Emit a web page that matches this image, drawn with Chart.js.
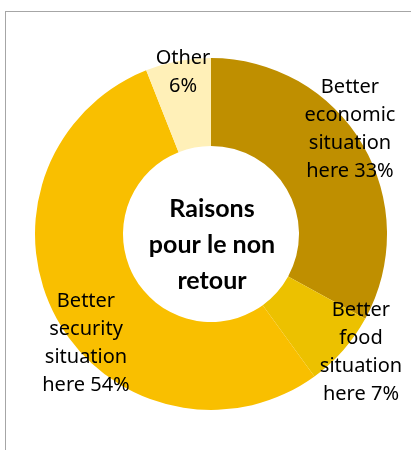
<!DOCTYPE html>
<html>
<head>
<meta charset="utf-8">
<script src="https://cdn.jsdelivr.net/npm/chart.js@4"></script>
<style>
  html, body { margin: 0; padding: 0; background: #fff; overflow: hidden; }
  #cadre { position: absolute; left: 5px; top: 11px; width: 430px; height: 460px; border: 1px solid #a6a6a6; }
  #wrap { position: absolute; left: 0; top: 0; width: 411px; height: 450px; }
</style>
</head>
<body>
<div id="cadre"></div>
<div id="wrap"><canvas id="myChart"></canvas></div>
<script>
// donnees du graphique
var categories = [
  ['Better', 'economic', 'situation', 'here 33%'],
  ['Better', 'food', 'situation', 'here 7%'],
  ['Better', 'security', 'situation', 'here 54%'],
  ['Other', '6%']
];
var valeurs = [33, 7, 54, 6];
var couleurs = ['#BF8F00', '#ECC100', '#F9BF00', '#FFF0B8'];
var titreCentre = ['Raisons', 'pour le non', 'retour'];

// decalage des etiquettes par rapport au centre du donut (px)
var decalages = [[139, -99], [150, 124], [-125, 115], [-28, -156]];

var etiquettes = {
  id: 'etiquettes',
  afterDatasetsDraw: function(chart) {
    var ctx = chart.ctx;
    var arcs = chart.getDatasetMeta(0).data;
    var cx = arcs[0].x, cy = arcs[0].y;
    ctx.save();
    ctx.fillStyle = '#000';
    ctx.textAlign = 'center';
    ctx.textBaseline = 'alphabetic';

    // etiquettes des parts
    ctx.font = '20px "Noto Sans"';
    var lh = 28;
    for (var i = 0; i < arcs.length; i++) {
      var linhas = categories[i];
      var x = cx + decalages[i][0];
      var y0 = cy + decalages[i][1] - (linhas.length - 1) * lh / 2;
      for (var j = 0; j < linhas.length; j++) {
        ctx.fillText(linhas[j], x, y0 + j * lh);
      }
    }

    // titre au centre
    ctx.font = 'bold 25px Lato';
    var lh2 = 36;
    var yc = cy + 19 - (titreCentre.length - 1) * lh2 / 2;
    for (var k = 0; k < titreCentre.length; k++) {
      ctx.fillText(titreCentre[k], cx + 1, yc + k * lh2);
    }
    ctx.restore();
  }
};

new Chart(myChart, {
  type: 'doughnut',
  data: {
    labels: categories.map(function(c) { return c.join(' '); }),
    datasets: [{
      data: valeurs,
      backgroundColor: couleurs,
      borderWidth: 0
    }]
  },
  options: {
    responsive: true,
    maintainAspectRatio: false,
    animation: false,
    cutout: '50%',
    layout: {
      padding: { left: 35, right: 24, top: 58, bottom: 40 }
    },
    plugins: {
      legend: { display: false },
      tooltip: { enabled: false }
    }
  },
  plugins: [etiquettes]
});
</script>
</body>
</html>
